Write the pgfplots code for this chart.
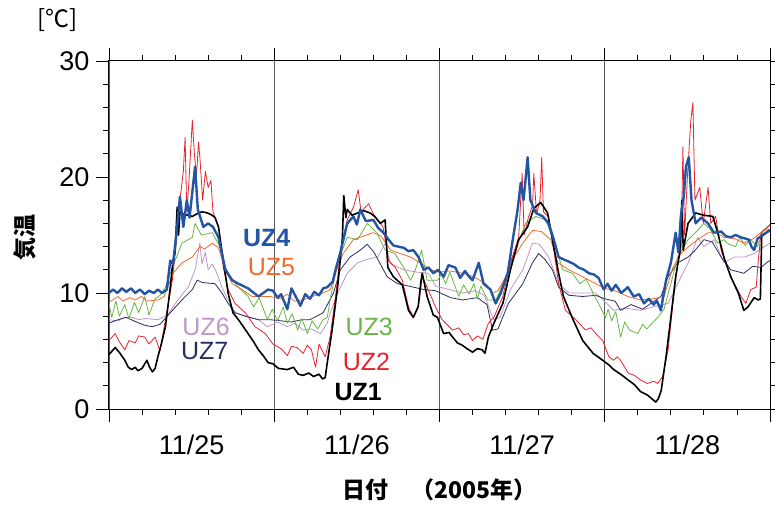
\documentclass[border=0pt]{standalone}
\usepackage{pgfplots}
\pgfplotsset{compat=1.18}
\usepackage{fontspec}
\setmainfont{Liberation Sans}
\newfontfamily\cjk{Noto Sans CJK JP}
\definecolor{cUZ2}{RGB}{230,35,45}
\definecolor{cUZ3}{RGB}{105,180,70}
\definecolor{cUZ4}{RGB}{35,85,165}
\definecolor{cUZ5}{RGB}{240,105,45}
\definecolor{cUZ6}{RGB}{190,150,200}
\definecolor{cUZ7}{RGB}{40,45,95}
\definecolor{gridc}{RGB}{90,90,90}
\begin{document}
\begin{tikzpicture}
\useasboundingbox (-109pt,-99pt) rectangle (666pt,409pt);
\begin{axis}[
  at={(0,0)}, anchor=south west,
  scale only axis, width=661pt, height=348pt,
  xmin=0, xmax=96, ymin=0, ymax=30,
  xtick={0,24,48,72,96}, xticklabels={,,,,},
  minor x tick num=4,
  extra x ticks={12,36,60,84},
  extra x tick labels={11/25,11/26,11/27,11/28},
  extra x tick style={major tick length=0pt, grid=none, xticklabel style={yshift=-22pt}},
  ytick={0,10,20,30}, minor y tick num=4,
  yticklabel style={xshift=-3pt},
  tick align=outside, tick pos=both,
  major tick length=13pt, minor tick length=6pt,
  xmajorgrids, major grid style={gridc, line width=0.9pt},
  every tick/.style={black, line width=0.9pt},
  axis line style={line width=1pt},
  ticklabel style={font=\fontsize{27}{30}\selectfont},
  /pgf/number format/assume math mode=true,
  every axis plot/.append style={line join=round},
]
% UZ6
\addplot[cUZ6, line width=0.8pt] coordinates {
(0,7.7)(1.3,7.6)(2.3,7.9)(3.4,7.9)(4.3,7.7)(5.3,7.8)(7.1,7.7)(8.5,8.1)(10.0,9.4)(11.5,10.5)(12.5,12.0)(13.2,14.3)(13.5,12.5)(14.0,13.5)(14.4,12.0)(15.0,12.5)(15.6,11.8)(16.4,10.5)(17.3,9.4)(18.3,8.3)(19.8,8.0)(21.7,7.7)(23.0,7.1)
(24.5,7.5)(25.9,7.1)(27.0,7.4)(28.2,6.8)(29.4,6.9)(30.7,6.5)(31.7,7.4)(32.15,8.3)(33.2,10.0)(34.6,11.7)(36.1,12.6)(37.5,12.9)(39.0,13.1)(40.15,14.3)(40.9,12.5)(42.8,12.0)(44.7,11.8)(46.4,11.7)(47.4,10.6)
(49.4,10.3)(51.35,10.0)(53.2,10.2)(54.5,9.8)(55.85,7.7)(56.8,7.9)(58.3,10.3)(60.1,12.0)(61.5,14.3)(62.5,14.2)(63.85,13.1)(65.3,10.8)(66.8,10.0)(68.8,10.0)(70.7,10.0)(72.1,9.2)
(73.3,8.5)(75.0,8.7)(77.2,8.5)(79.0,8.8)(81.2,9.1)(82.6,10.8)(84.1,12.6)(85.5,14.8)(86.4,14.0)(87.9,14.6)(89.3,12.6)(90.8,13.1)(92.3,13.1)(93.7,13.4)(94.7,13.8)(96,14.3)
};
% UZ7
\addplot[cUZ7, line width=0.8pt] coordinates {
(0,7.4)(1.3,7.7)(2.5,7.9)(3.6,7.6)(4.4,7.4)(5.3,7.2)(6.3,7.1)(7.4,7.3)(9.2,8.5)(10.6,9.4)(12.1,10.3)(12.8,11.1)(13.6,10.9)(15.4,10.8)(16.4,10.0)(17.3,9.1)(18.3,8.3)(19.8,8.0)(21.7,7.7)(23.4,7.7)
(25.0,7.6)(26.5,7.5)(28.0,7.7)(29.2,7.7)(31.1,8.3)(32.6,10.0)(33.6,12.0)(35.0,13.1)(36.5,13.7)(37.5,14.2)(38.5,13.5)(40.4,11.4)(41.9,10.8)(43.5,10.6)(45.7,10.3)(47.4,10.2)(48.5,9.9)
(49.6,9.6)(51.35,9.4)(53.5,9.6)(54.9,9.0)(55.7,6.8)(56.5,6.9)(58.0,9.1)(60.1,10.8)(61.5,12.6)(62.4,13.4)(63.3,12.9)(64.4,12.0)(65.3,10.5)(66.8,9.8)(68.8,9.7)(70.7,9.8)(72.0,9.5)
(73.5,9.3)(74.3,8.5)(75.8,9.0)(77.5,8.6)(80.15,9.7)(81.2,11.4)(82.6,12.6)(84.1,13.1)(85.0,13.6)(86.4,14.6)(87.6,14.4)(88.9,13.1)(90.3,12.0)(92.2,11.7)(93.5,12.3)(94.7,12.2)(95.7,12.7)(96,12.8)
};
% UZ3
\addplot[cUZ3, line width=0.8pt] coordinates {
(0,9.1)(0.4,7.9)(1.0,9.3)(1.5,8.0)(2.3,9.0)(2.9,7.8)(3.7,9.2)(4.3,8.3)(5.2,9.7)(5.8,8.1)(6.7,9.5)(7.4,9.8)(8.2,10.5)(9.2,12.2)(10.6,14.3)(12.1,14.8)(12.5,16.0)(13.4,15.0)(15.0,15.2)(16.1,14.0)(16.9,12.2)(17.9,11.1)(18.8,10.5)(20.2,9.7)(21.0,8.8)(21.8,9.6)(23.0,7.7)(23.7,8.6)
(24.5,7.6)(25.3,8.8)(25.9,7.4)(26.6,8.2)(27.4,6.8)(28.0,7.8)(28.8,6.5)(29.5,7.6)(30.3,6.9)(31.1,7.7)(31.7,7.9)(32.2,9.7)(33.2,12.6)(34.6,14.8)(36.1,14.6)(37.5,16.0)(38.9,15.2)(40.1,13.7)(41.5,13.4)(42.8,12.2)(43.8,11.1)(44.5,12.0)(45.4,13.7)(46.2,11.1)(47.7,11.1)(48.3,11.6)
(48.9,10.8)(49.5,11.8)(50.8,9.7)(51.5,10.7)(52.3,9.9)(53.0,10.8)(53.5,9.5)(54.0,10.6)(55.0,9.4)(56.2,9.4)(57.6,11.4)(59.0,13.7)(60.5,16.0)(62.0,16.6)(63.4,16.3)(64.4,14.8)(65.9,12.0)(67.3,11.7)(68.4,10.8)(69.3,11.2)(70.3,10.0)(71.0,9.2)(72.1,7.9)
(72.5,8.6)(73.0,7.6)(73.6,8.4)(74.3,6.2)(74.9,7.5)(75.6,6.8)(76.8,6.5)(77.5,7.3)(78.1,6.9)(79.7,7.9)(80.6,8.6)(81.6,10.8)(82.6,13.1)(84.1,14.6)(85.5,15.4)(86.4,16.0)(87.3,15.5)(88.4,14.3)(89.3,14.6)(90.0,14.2)(91.0,14.0)(91.6,14.8)(92.4,14.1)(93.2,14.6)(94.2,14.0)(95.0,15.4)(96,15.9)
};
% UZ5
\addplot[cUZ5, line width=0.8pt] coordinates {
(0,9.2)(1.3,9.7)(2.0,9.3)(3.0,9.6)(3.8,9.4)(4.7,9.7)(5.5,9.3)(7.1,9.4)(8.0,9.7)(9.3,11.7)(10.6,12.6)(12.1,13.1)(13.2,14.0)(13.9,13.8)(15.0,14.3)(15.9,13.9)(16.9,12.0)(17.9,10.8)(19.3,10.3)(20.8,9.7)(22.3,9.7)(23.4,9.7)
(24.8,9.5)(25.9,9.9)(26.9,9.3)(28.2,9.4)(29.5,9.7)(30.7,9.9)(32.15,10.3)(33.2,12.2)(34.0,13.4)(35.5,14.6)(36.9,14.9)(38.4,15.2)(39.5,14.9)(40.9,13.7)(42.3,13.4)(43.8,13.1)(45.2,12.6)(46.7,12.0)(48.0,11.8)
(49.5,11.9)(51.35,11.7)(53.0,11.4)(54.7,10.8)(55.7,10.0)(56.5,10.2)(57.6,11.4)(58.8,13.1)(60.1,14.3)(61.5,15.4)(62.8,15.3)(64.15,14.6)(65.2,12.6)(66.8,12.0)(68.8,11.4)(70.7,10.8)(72.0,10.4)
(73.5,10.2)(75.35,9.7)(77.2,9.4)(79.0,9.5)(80.6,9.7)(81.9,12.2)(83.05,13.4)(84.2,14.0)(85.5,14.6)(87.0,15.2)(88.2,15.2)(89.3,14.8)(90.8,14.7)(92.2,14.3)(93.6,14.7)(95.1,15.4)(96,15.5)
};
% UZ2
\addplot[cUZ2, line width=0.8pt] coordinates {
(0,5.9)(0.9,6.5)(1.5,5.8)(2.3,5.1)(2.9,5.9)(3.8,5.7)(4.3,6.3)(5.2,6.2)(5.8,5.6)(6.7,6.2)(7.4,5.0)(8.2,7.7)(9.2,11.1)(9.9,15.2)(10.3,18.0)(10.8,20.5)(11.05,23.4)(11.3,17.0)(11.6,19.5)(12.1,24.9)(12.4,22.0)(12.7,20.0)(13.0,23.0)(13.2,21.7)(13.6,18.0)(14.0,20.5)(14.4,19.1)(14.8,19.7)(15.1,17.0)(15.9,15.7)(16.6,12.2)(17.3,10.3)(18.3,9.1)(19.8,8.3)(21.2,7.1)(22.7,6.5)(23.8,5.6)
(25.0,5.2)(25.9,4.6)(26.5,5.4)(27.3,5.3)(28.2,4.8)(28.8,5.5)(29.4,5.1)(30.0,3.6)(30.5,5.6)(31.4,4.5)(32.1,6.2)(32.9,9.7)(33.6,13.4)(34.6,16.3)(35.5,17.4)(36.2,18.9)(36.6,17.0)(37.7,17.7)(38.4,16.8)(39.8,15.7)(40.6,12.8)(41.6,12.2)(42.6,11.1)(43.5,8.8)(44.2,7.9)(45.0,9.1)(45.5,11.4)(46.2,10.5)(47.5,8.7)(48.4,7.7)
(49.9,6.8)(50.8,7.0)(51.5,6.4)(52.2,6.5)(52.8,5.9)(53.5,6.3)(54.3,6.0)(55.1,7.4)(55.9,7.9)(57.2,9.7)(58.3,12.6)(59.5,14.8)(60.0,20.3)(60.3,15.0)(60.9,16.5)(61.5,17.5)(61.7,20.3)(62.1,16.8)(62.6,18.0)(62.84,21.7)(63.1,17.0)(63.8,16.6)(64.4,14.6)(65.3,10.8)(66.3,8.5)(67.8,7.7)(69.2,6.8)(70.0,7.0)(70.7,6.5)(71.7,5.9)(72.6,4.5)
(73.3,4.2)(73.8,4.5)(74.3,4.2)(75.0,3.5)(75.4,3.1)(76.3,2.9)(77.2,2.5)(78.2,2.2)(79.1,2.4)(79.7,2.2)(80.4,2.8)(81.2,5.1)(81.9,9.1)(82.6,12.6)(83.1,14.0)(83.35,22.6)(83.6,15.0)(84.0,20.0)(84.5,24.9)(84.8,26.4)(85.1,18.0)(85.8,19.1)(86.3,16.0)(87.0,19.1)(87.4,16.0)(88.1,16.6)(88.9,13.7)(89.9,12.0)(90.8,10.8)(91.8,9.7)(92.5,9.1)(93.2,10.3)(94.0,10.5)(94.3,12.8)(94.7,15.2)(95.7,15.7)(96,15.9)
};
% UZ1
\addplot[black, line width=1.6pt] coordinates {
(0,4.7)(0.9,5.3)(1.6,4.8)(2.3,4.2)(2.8,3.6)(3.3,3.4)(3.8,3.6)(4.2,3.3)(4.8,3.5)(5.2,3.9)(5.5,4.2)(5.9,3.6)(6.3,3.2)(6.7,3.5)(7.1,4.5)(7.6,5.6)(8.2,7.1)(8.9,10.5)(9.3,12.8)(9.6,13.5)(9.9,17.4)(10.1,15.0)(10.3,17.0)(10.8,16.8)(11.5,16.7)(12.1,16.6)(13.0,16.9)(13.5,17.0)(14.3,16.9)(15.0,16.7)(15.4,16.5)(15.9,15.7)(16.6,12.8)(17.3,10.0)(18.0,8.3)(18.8,7.7)(19.5,7.1)(20.2,6.5)(21.0,5.8)(21.7,5.1)(22.4,4.6)(23.1,4.0)(23.8,3.9)(24.6,3.5)
(25.9,3.4)(26.8,3.6)(27.5,3.0)(28.2,2.9)(29.0,3.1)(29.7,2.8)(30.5,3.0)(31.0,2.6)(31.4,2.7)(31.7,4.0)(32.4,6.8)(33.2,10.5)(33.9,14.8)(34.1,18.4)(34.4,16.5)(34.6,17.2)(35.3,16.7)(36.1,16.9)(37.0,17.1)(37.9,16.9)(38.6,16.6)(39.4,16.0)(40.1,16.3)(40.5,12.2)(41.3,11.4)(42.6,10.7)(43.5,8.5)(44.2,7.9)(44.9,8.8)(45.3,11.0)(45.5,11.7)(46.2,9.7)(47.1,8.1)(47.7,7.9)
(48.6,6.5)(49.4,6.6)(49.9,6.2)(50.6,5.7)(51.3,5.5)(52.0,5.2)(52.8,4.9)(53.5,5.2)(54.2,5.1)(54.6,4.8)(55.1,6.2)(55.9,7.4)(57.2,9.1)(58.3,12.0)(59.5,14.6)(60.8,15.7)(61.7,17.3)(62.7,17.8)(63.7,16.9)(64.4,14.6)(65.3,11.7)(66.0,9.7)(67.4,7.7)(68.8,5.9)(70.3,4.8)(71.7,4.2)(72.6,3.8)
(73.3,3.4)(74.3,3.0)(75.4,2.5)(76.3,2.1)(77.2,1.5)(78.2,1.2)(79.4,0.6)(79.8,0.9)(80.2,1.6)(80.9,4.5)(81.6,7.9)(82.3,11.4)(82.9,13.5)(83.2,18.0)(83.4,13.7)(84.1,16.0)(85.2,16.9)(86.4,16.7)(87.7,16.6)(88.4,15.2)(89.3,13.1)(90.3,11.4)(91.4,10.0)(92.2,8.5)(92.8,8.8)(93.7,9.6)(94.3,9.4)(94.6,9.5)(94.8,15.0)(95.4,15.2)(96,15.4)
};
% UZ4
\addplot[cUZ4, line width=2.4pt] coordinates {
(0,10.0)(0.6,10.3)(1.2,10.0)(1.9,10.4)(2.5,10.1)(3.2,10.4)(3.8,10.0)(4.5,10.3)(5.2,9.9)(5.8,10.2)(6.5,10.0)(7.1,10.3)(7.7,10.0)(8.4,10.3)(8.9,12.8)(9.3,12.5)(9.9,15.7)(10.3,18.3)(10.8,15.7)(11.3,18.0)(11.7,16.5)(12.5,20.9)(12.9,17.2)(13.7,15.7)(14.4,16.0)(15.1,15.7)(15.9,14.8)(16.9,12.0)(17.9,11.1)(18.8,10.8)(20.2,10.4)(21.7,9.7)(23.1,10.3)
(23.8,10.2)(24.5,9.6)(25.0,9.9)(25.9,8.6)(26.5,10.4)(27.2,9.6)(27.8,8.9)(28.5,9.9)(29.2,9.5)(29.8,10.1)(30.5,9.8)(31.1,10.4)(31.7,10.5)(32.5,11.0)(32.9,12.0)(33.6,13.5)(34.6,16.0)(35.5,16.6)(36.0,15.9)(36.5,17.2)(37.3,16.2)(38.4,16.3)(39.1,15.6)(39.85,15.2)(40.6,14.6)(41.3,14.1)(42.0,14.0)(42.8,13.9)(43.5,13.6)(44.2,13.7)(44.95,13.1)(45.7,12.0)(46.4,12.2)(47.1,11.7)(47.8,12.0)(48.6,11.4)
(49.3,12.4)(50.3,12.2)(51.0,11.3)(51.7,11.9)(52.3,11.4)(52.8,11.1)(53.7,12.6)(54.4,10.8)(55.4,10.3)(56.15,9.1)(56.9,10.0)(57.9,11.7)(58.8,15.2)(59.3,17.0)(59.8,19.5)(60.2,18.0)(60.5,19.8)(60.8,21.7)(61.2,18.0)(62.0,16.9)(63.0,16.6)(63.85,16.0)(64.6,14.6)(65.3,13.1)(66.0,12.9)(66.8,12.7)(67.5,12.5)(68.2,12.2)(69.0,12.0)(69.7,11.7)(70.4,11.6)(71.1,11.3)(71.85,10.3)
(72.4,10.8)(73.0,10.2)(73.6,10.7)(74.4,10.0)(75.35,10.5)(76.2,9.7)(77.0,9.9)(77.7,9.1)(78.4,9.5)(79.1,9.0)(79.6,9.3)(80.15,8.5)(80.9,11.1)(81.6,12.6)(82.3,15.2)(82.7,13.5)(83.05,16.6)(83.5,18.5)(83.8,20.9)(84.2,21.7)(84.6,18.0)(85.2,16.0)(86.0,16.5)(87.0,16.0)(87.85,15.2)(88.9,15.3)(89.6,14.9)(90.3,14.8)(91.0,15.0)(91.8,14.8)(92.95,14.6)(93.3,14.0)(93.7,13.7)(94.2,14.7)(95.0,15.0)(95.7,15.3)(96,15.4)
};
\node[text=cUZ4, font=\fontsize{25}{28}\selectfont\bfseries] at (axis cs:22.9,14.7) {UZ4};
\node[text=cUZ5, font=\fontsize{25}{28}\selectfont] at (axis cs:23.6,12.2) {UZ5};
\node[text=cUZ6, font=\fontsize{25}{28}\selectfont] at (axis cs:14.1,7.1) {UZ6};
\node[text=cUZ7, font=\fontsize{25}{28}\selectfont] at (axis cs:13.9,5.0) {UZ7};
\node[text=cUZ3, font=\fontsize{25}{28}\selectfont] at (axis cs:37.8,7.1) {UZ3};
\node[text=cUZ2, font=\fontsize{25}{28}\selectfont] at (axis cs:37.4,4.1) {UZ2};
\node[text=black, font=\fontsize{25}{28}\selectfont\bfseries] at (axis cs:36.2,1.5) {UZ1};
\end{axis}
\node[font=\fontsize{24}{28}\selectfont\cjk] at (-51pt,389pt) {[℃]};
\node[rotate=90, font=\fontsize{23}{26}\selectfont\cjk\bfseries] at (-84pt,171pt) {気温};
\node[font=\fontsize{23}{26}\selectfont\cjk\bfseries] at (330.5pt,-81pt) {日付　（2005年）};
\end{tikzpicture}
\end{document}
